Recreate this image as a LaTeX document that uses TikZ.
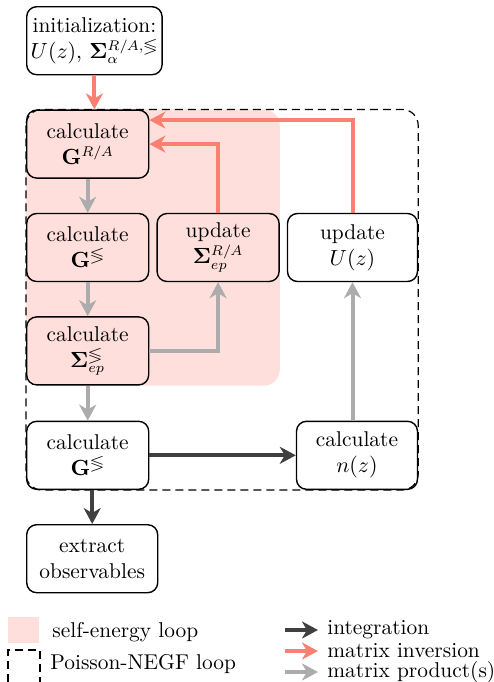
\documentclass[tikz,border=0pt]{standalone}
\usepackage{tikz}
\usetikzlibrary{arrows.meta, positioning, calc, backgrounds}
\tikzset{>={Stealth}}
\usepackage{amsmath}
\usepackage{amssymb}
\usepackage{bm}
\definecolor{salmon}{RGB}{250,128,114}
\definecolor{prodgray}{RGB}{172,172,172}
\definecolor{intdark}{RGB}{64,64,64}

\begin{document}
\begin{tikzpicture}[
  font=\fontsize{10.7}{13}\selectfont,
  box/.style={draw, rounded corners=5pt, line width=0.7pt, align=center, minimum width=61pt, minimum height=34pt, inner sep=2pt},
  wide/.style={box, minimum width=65.5pt},
  flow/.style={-{Stealth[length=8pt,width=8.5pt,inset=2.5pt]}, line width=2pt},
  inv/.style={flow, draw=salmon},
  prod/.style={flow, draw=prodgray},
  integ/.style={flow, draw=intdark},
  legend/.style={anchor=west, inner sep=0pt}
]
  \useasboundingbox (0,0) rectangle (247pt,-341pt);

  % Nodes
  \node[wide, anchor=north west] (init) at (13pt,-3pt) {initialization:\\$U(z)$, $\boldsymbol{\Sigma}_{\alpha}^{R/A,\lessgtr}$};
  \node[box, below=17pt of init.south west, anchor=north west] (gra) {calculate\\$\mathbf{G}^{R/A}$};
  \node[box, below=17pt of gra.south west, anchor=north west] (gle) {calculate\\$\mathbf{G}^{\lessgtr}$};
  \node[box, below=17pt of gle.south west, anchor=north west] (sle) {calculate\\$\boldsymbol{\Sigma}_{ep}^{\lessgtr}$};
  \node[box, below=17.5pt of sle.south west, anchor=north west] (gout) {calculate\\$\mathbf{G}^{\lessgtr}$};
  \node[wide, below=17pt of gout.south west, anchor=north west] (obs) {extract\\observables};
  \node[box, right=3.5pt of gle] (sra) {update\\$\boldsymbol{\Sigma}_{ep}^{R/A}$};
  \node[box, minimum width=65pt, right=3.5pt of sra] (upu) {update\\$U(z)$};
  \node[box, minimum width=60.5pt, anchor=east] (nz) at (upu.east |- gout.east) {calculate\\$n(z)$};

  % Loops
  \begin{scope}[on background layer]
    \fill[salmon!25, rounded corners=8pt] (gra.north west) rectangle (sra.east |- sle.south);
  \end{scope}
  \draw[dash pattern=on 4pt off 2.5pt, line width=0.6pt, rounded corners=8pt]
    (gra.north west) rectangle (upu.east |- gout.south);

  % ---- Arrows ----
  \draw[inv] (init.south) -- (init.south |- gra.north);
  \draw[prod] (gra) -- (gle);
  \draw[prod] (gle) -- (sle);
  \draw[prod] (sle) -- (gout);
  \draw[prod] (sle.east) -| (sra.south);
  \draw[inv] (sra.north) |- (gra.east);
  \draw[inv] (upu.north) |- ($(gra.east)+(0,12pt)$);
  \draw[integ] (gout) -- (nz);
  \draw[prod] (upu.south |- nz.north) -- (upu.south);
  \draw[integ] (gout.south -| obs.north) -- (obs.north);

  % Legend
  \fill[salmon!25] (4pt,-308.5pt) rectangle (19.5pt,-321.5pt);
  \node[legend] (lself) at (26pt,-316pt) {self-energy loop};
  \draw[dash pattern=on 4pt off 2.5pt, line width=0.6pt]
    (4pt,-341pt) -- (4pt,-325pt) -- (20pt,-325pt) -- (20pt,-341pt);
  \node[legend] (lpois) at (25pt,-332pt) {Poisson-NEGF loop};

  \node[legend] (lint) at (163.5pt,-315pt) {integration};
  \node[legend] (linv) at (163.5pt,-325.5pt) {matrix inversion};
  \node[legend] (lprod) at (163.5pt,-336pt) {matrix product(s)};
  \coordinate (kint) at (142.5pt,-315pt);
  \coordinate (kinv) at (142.5pt,-325.5pt);
  \coordinate (kprod) at (142.5pt,-336pt);
  \draw[integ, shorten >=4.5pt] (kint) -- (kint -| lint.west);
  \draw[inv, shorten >=4.5pt] (kinv) -- (kinv -| linv.west);
  \draw[prod, shorten >=4.5pt] (kprod) -- (kprod -| lprod.west);
\end{tikzpicture}
\end{document}
